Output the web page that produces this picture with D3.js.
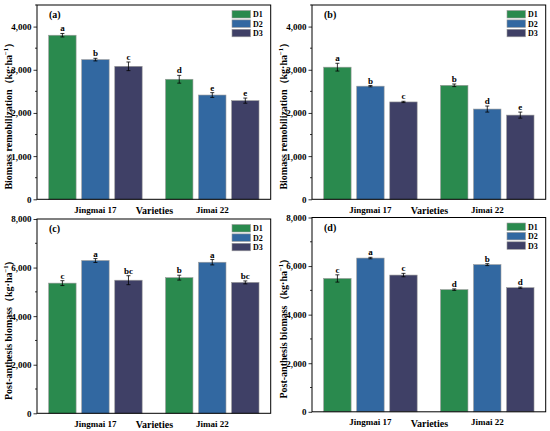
<!DOCTYPE html>
<html>
<head>
<meta charset="utf-8">
<script src="https://cdn.jsdelivr.net/npm/d3@7"></script>
<style>
  body { margin: 0; background: #fff; }
  text { font-family: "Liberation Serif", "Times New Roman", serif; font-weight: bold; fill: #000; }
</style>
</head>
<body>
<svg id="chart" width="550" height="431"></svg>
<script>
const varieties = ["Jingmai 17", "Jimai 22"];
const densities = ["D1", "D2", "D3"];
const colors = d3.scaleOrdinal(densities, ["#2a8a4e", "#3268a1", "#3f4066"]);

// values per variety, in D1..D3 order
const remobA = [[3800, 3235, 3080], [2780, 2415, 2285]];
const remobAErr = [[40, 30, 100], [90, 55, 60]];
const remobALetters = [["a", "b", "c"], ["d", "e", "e"]];

const remobB = [[3060, 2620, 2255], [2640, 2090, 1950]];
const remobBErr = [[90, 15, 15], [30, 70, 70]];
const remobBLetters = [["a", "b", "c"], ["b", "d", "e"]];

const postC = [[5360, 6290, 5480], [5585, 6220, 5390]];
const postCErr = [[100, 80, 185], [100, 110, 60]];
const postCLetters = [["c", "a", "bc"], ["b", "a", "bc"]];

const postD = [[5490, 6330, 5630], [5030, 6060, 5110]];
const postDErr = [[150, 30, 70], [30, 40, 25]];
const postDLetters = [["c", "a", "c"], ["d", "b", "d"]];

const remobTicks = [0, 1000, 2000, 3000, 4000];
const postTicks = [0, 2000, 4000, 6000, 8000];

const panels = [
  { tag: "(a)", values: remobA, errs: remobAErr, letters: remobALetters, max: 4500, ticks: remobTicks, minor: 500, title: "Biomass remobilization", dx: 0, dy: 0 },
  { tag: "(b)", values: remobB, errs: remobBErr, letters: remobBLetters, max: 4500, ticks: remobTicks, minor: 500, title: "Biomass remobilization", dx: 275, dy: 0 },
  { tag: "(c)", values: postC, errs: postCErr, letters: postCLetters, max: 8000, ticks: postTicks, minor: 1000, title: "Post-anthesis biomass", dx: 0, dy: 214 },
  { tag: "(d)", values: postD, errs: postDErr, letters: postDLetters, max: 8000, ticks: postTicks, minor: 1000, title: "Post-anthesis biomass", dx: 275, dy: 212.5 },
];

const frame = { left: 37, top: 5, width: 233.7, height: 194.3 };
const svg = d3.select("#chart");
const fmt = d3.format(",");

panels.forEach((p) => draw(p));

function draw(p) {
  const g = svg.append("g").attr("transform", `translate(${p.dx}, ${p.dy})`);

  const x = d3.scaleBand().domain(varieties)
    .range([frame.left, frame.left + frame.width])
    .paddingInner(0.2).paddingOuter(0.1);
  const xi = d3.scaleBand().domain(densities)
    .range([0, x.bandwidth()]).paddingInner(0.17);
  const y = d3.scaleLinear().domain([0, p.max])
    .range([frame.top + frame.height, frame.top]);

  // minor ticks
  const minor = d3.range(0, p.max + 1, p.minor).filter((v) => !p.ticks.includes(v));
  g.selectAll("line.minor").data(minor).enter().append("line")
    .attr("x1", frame.left - 2).attr("x2", frame.left)
    .attr("y1", (d) => y(d)).attr("y2", (d) => y(d))
    .attr("stroke", "#000").attr("stroke-width", 0.8);

  const yAxis = g.append("g")
    .attr("transform", `translate(${frame.left}, 0)`)
    .call(d3.axisLeft(y).tickValues(p.ticks).tickFormat(fmt).tickSize(3.5).tickPadding(2));
  yAxis.select(".domain").remove();
  yAxis.selectAll("text").style("font-size", "9px").style("font-family", null);
  yAxis.selectAll("line").attr("stroke-width", 0.8);

  const xAxis = g.append("g")
    .attr("transform", `translate(0, ${frame.top + frame.height})`)
    .call(d3.axisBottom(x).tickSize(0).tickPadding(7));
  xAxis.select(".domain").remove();
  xAxis.selectAll("text").style("font-size", "9px").style("font-family", null);

  g.append("text")
    .attr("x", frame.left + frame.width * 0.5 + 0.5)
    .attr("y", frame.top + frame.height + 15)
    .attr("text-anchor", "middle")
    .style("font-size", "10px")
    .text("Varieties");

  // y title
  const t = g.append("text")
    .attr("transform", `translate(12, ${frame.top + frame.height * 0.56}) rotate(-90)`)
    .attr("text-anchor", "middle")
    .style("font-size", "10px");
  t.append("tspan").text(p.title + "（kg·ha");
  t.append("tspan").attr("dy", -4).style("font-size", "6.5px").text("−1");
  t.append("tspan").attr("dy", 4).text("）");

  const rows = p.values.flatMap((vals, i) =>
    vals.map((v, j) => ({ variety: varieties[i], density: densities[j], value: v, err: p.errs[i][j], letter: p.letters[i][j] }))
  );

  const bars = g.selectAll("g.bar").data(rows).enter().append("g")
    .attr("transform", (d) => `translate(${x(d.variety) + xi(d.density)}, 0)`);

  bars.append("rect")
    .attr("x", 0).attr("width", xi.bandwidth())
    .attr("y", (d) => y(d.value))
    .attr("height", (d) => y(0) - y(d.value))
    .attr("fill", (d) => colors(d.density))
    .attr("stroke", "#9a9a9a").attr("stroke-width", 0.6);

  const cx = xi.bandwidth() / 2;
  bars.append("line")
    .attr("x1", cx).attr("x2", cx)
    .attr("y1", (d) => y(d.value - d.err)).attr("y2", (d) => y(d.value + d.err))
    .attr("stroke", "#000").attr("stroke-width", 0.8);
  [1, -1].forEach((s) => {
    bars.append("line")
      .attr("x1", cx - 2).attr("x2", cx + 2)
      .attr("y1", (d) => y(d.value + s * d.err)).attr("y2", (d) => y(d.value + s * d.err))
      .attr("stroke", "#000").attr("stroke-width", 0.8);
  });
  bars.append("text")
    .attr("x", cx).attr("y", (d) => y(d.value + d.err) - 2)
    .attr("text-anchor", "middle")
    .style("font-size", "9px")
    .text((d) => d.letter);

  // frame box
  g.append("rect")
    .attr("x", frame.left).attr("y", frame.top)
    .attr("width", frame.width).attr("height", frame.height)
    .attr("fill", "none").attr("stroke", "#000").attr("stroke-width", 1);

  g.append("text")
    .attr("x", frame.left + 12).attr("y", frame.top + 13)
    .style("font-size", "10px")
    .text(p.tag);

  // legend
  const leg = g.selectAll("g.leg").data(densities).enter().append("g")
    .attr("transform", (d, i) => `translate(${frame.left + 195}, ${frame.top + 5.5 + i * 9.4})`);
  leg.append("rect")
    .attr("width", 18.5).attr("height", 7.5)
    .attr("fill", (d) => colors(d))
    .attr("stroke", "#9a9a9a").attr("stroke-width", 0.6);
  leg.append("text")
    .attr("x", 21).attr("y", 6.8)
    .style("font-size", "8px")
    .text((d) => d);
}
</script>
</body>
</html>
